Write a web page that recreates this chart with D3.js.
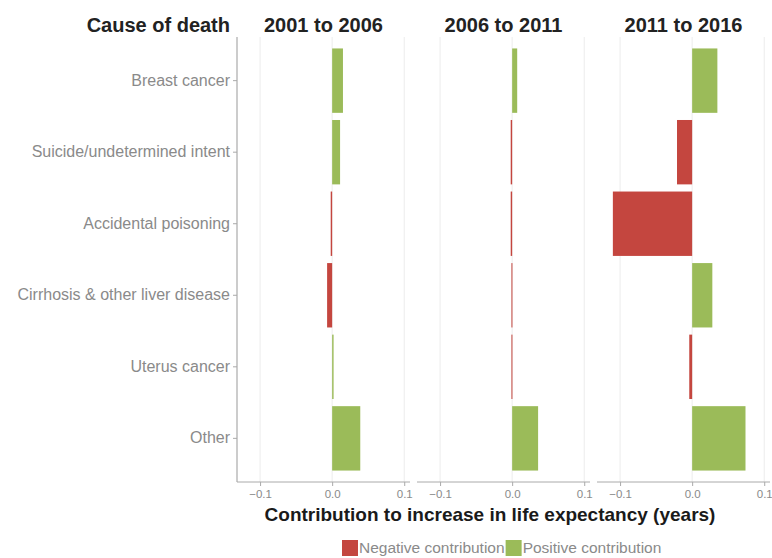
<!DOCTYPE html>
<html>
<head>
<meta charset="utf-8">
<script src="https://cdn.jsdelivr.net/npm/d3@7"></script>
<style>
  html, body { margin: 0; padding: 0; background: #fff; }
  svg { display: block; font-family: "Liberation Sans", Arial, sans-serif; }
</style>
</head>
<body>
<svg id="chart" width="772" height="558"></svg>
<script>
// Causes of death, top to bottom
const causes = [
  "Breast cancer",
  "Suicide/undetermined intent",
  "Accidental poisoning",
  "Cirrhosis & other liver disease",
  "Uterus cancer",
  "Other"
];

// Periods (one facet each)
const periods = ["2001 to 2006", "2006 to 2011", "2011 to 2016"];

// Contribution to the change in life expectancy (years), per period, in cause order
const contrib2001to2006 = [0.015, 0.011, -0.002, -0.007, 0.002, 0.039];
const contrib2006to2011 = [0.007, -0.002, -0.002, -0.001, -0.001, 0.036];
const contrib2011to2016 = [0.035, -0.021, -0.110, 0.028, -0.004, 0.074];
const contributions = [contrib2001to2006, contrib2006to2011, contrib2011to2016];

const xTicks = [-0.1, 0.0, 0.1];
const legendLabels = ["Negative contribution", "Positive contribution"];

// Layout
const svg = d3.select("#chart");
const plotLeft = 237, plotTop = 37, plotBottom = 482;
const panelW = 173, gap = 7;
const red = "#c4463f", green = "#9bbb59";
const labelGrey = "#8a8a8a";

const y = d3.scaleBand().domain(causes).range([plotTop, plotBottom])
  .paddingInner(0.1).paddingOuter(0.16);
const x = d3.scaleLinear().domain([-0.132, 0.108]).range([0, panelW]);
const fmt = d3.format(".1f");

// Header for the category column
svg.append("text")
  .attr("x", 230).attr("y", 32)
  .attr("text-anchor", "end")
  .attr("font-size", 20).attr("font-weight", "bold").attr("fill", "#222")
  .text("Cause of death");

// Category axis
const yAxisG = svg.append("g").attr("transform", `translate(${plotLeft},0)`)
  .call(d3.axisLeft(y).tickSize(4).tickPadding(3));
yAxisG.select(".domain").attr("stroke", "#999").attr("d", `M0,${plotTop}V${plotBottom}`);
yAxisG.selectAll(".tick line").attr("stroke", "#aaa");
yAxisG.selectAll(".tick text")
  .attr("font-size", 16).attr("fill", labelGrey)
  .attr("font-family", "Liberation Sans, Arial, sans-serif");

periods.forEach((p, i) => {
  const g = svg.append("g").attr("transform", `translate(${plotLeft + i * (panelW + gap)},0)`);

  // vertical grid
  g.selectAll("line.grid").data(xTicks).join("line")
    .attr("class", "grid")
    .attr("x1", d => x(d)).attr("x2", d => x(d))
    .attr("y1", plotTop).attr("y2", plotBottom)
    .attr("stroke", "#ececec").attr("stroke-width", 1);

  // bars
  const vals = contributions[i];
  g.selectAll("rect.bar").data(causes.map((c, j) => ({ cause: c, value: vals[j] }))).join("rect")
    .attr("class", "bar")
    .attr("x", d => x(Math.min(0, d.value)))
    .attr("width", d => Math.max(1, Math.abs(x(d.value) - x(0))))
    .attr("y", d => y(d.cause))
    .attr("height", y.bandwidth())
    .attr("fill", d => d.value < 0 ? red : green);

  // x axis
  const ax = g.append("g").attr("transform", `translate(0,${plotBottom})`)
    .call(d3.axisBottom(x).tickValues(xTicks).tickFormat(fmt).tickSize(4).tickPadding(4));
  ax.select(".domain").attr("stroke", "#aaa").attr("d", `M0,0H${panelW}`);
  ax.selectAll(".tick line").attr("stroke", "#aaa");
  ax.selectAll(".tick text")
    .attr("font-size", 11.5).attr("fill", labelGrey)
    .attr("font-family", "Liberation Sans, Arial, sans-serif");

  // facet title
  g.append("text")
    .attr("x", panelW / 2).attr("y", 32)
    .attr("text-anchor", "middle")
    .attr("font-size", 20).attr("font-weight", "bold").attr("fill", "#222")
    .text(p);
});

// x axis title
svg.append("text")
  .attr("x", 490).attr("y", 521)
  .attr("text-anchor", "middle")
  .attr("font-size", 19).attr("font-weight", "bold").attr("fill", "#1a1a1a")
  .text("Contribution to increase in life expectancy (years)");

// legend
const legend = svg.append("g").attr("transform", "translate(342,540)");
const legendColors = [red, green];
let lx = 0;
legendLabels.forEach((lab, i) => {
  legend.append("rect").attr("x", lx).attr("y", 0).attr("width", 16).attr("height", 16)
    .attr("fill", legendColors[i]);
  const t = legend.append("text").attr("x", lx + 17).attr("y", 13)
    .attr("font-size", 15.5).attr("fill", labelGrey).text(lab);
  lx += 17 + t.node().getComputedTextLength() + 1;
});
</script>
</body>
</html>
